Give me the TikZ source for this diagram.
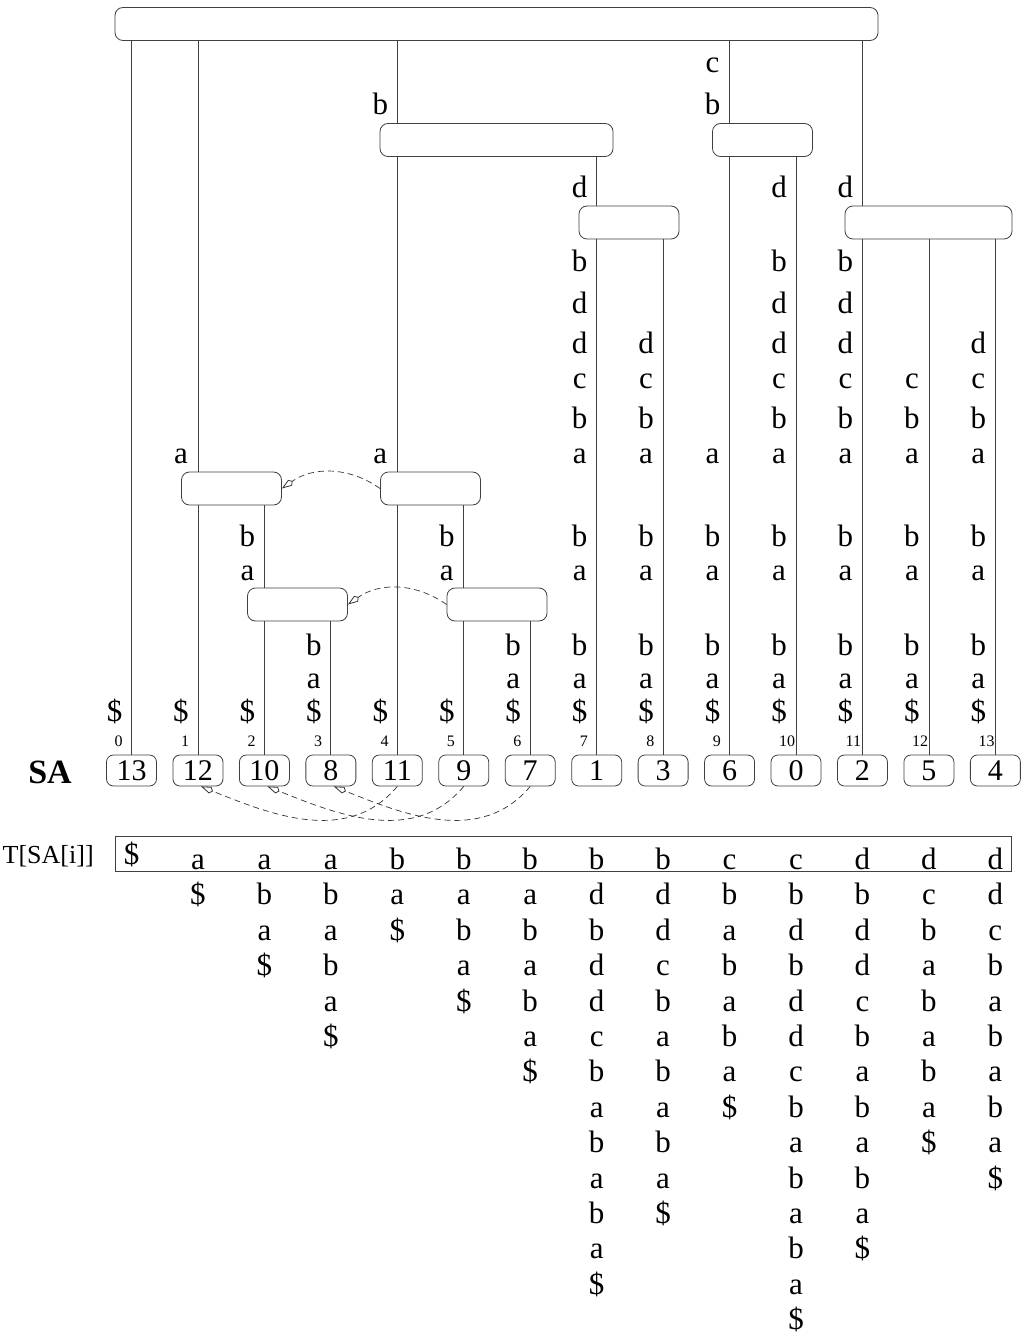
\documentclass[tikz,border=0pt]{standalone}
\usepackage{fontspec}
\setmainfont{Liberation Serif}
\usetikzlibrary{arrows.meta}
\newcommand\elab[2]{\foreach \yy/\lt in {#2} {\node[lab] at ({114.5+66.45*#1},\yy) {\lt};}}
\newcommand\sufcol[2]{\foreach \lt [count=\kk from 0] in {#2} {\node[lab] (s#1-\kk) at ({131.5+66.45*#1},{869.5+35.4*\kk}) {\lt};}}
\begin{document}
\begin{tikzpicture}[x=1pt,y=-1pt,
  ibox/.style={draw=black!75,line width=0.8pt,rounded corners=8pt,fill=white,minimum height=33pt,inner sep=0pt},
  leafbox/.style={draw=black!75,line width=0.8pt,rounded corners=7pt,minimum width=50pt,minimum height=31pt,inner sep=0pt,font=\fontsize{30}{30}\selectfont},
  edge/.style={draw=black!75,line width=0.8pt},
  lab/.style={anchor=base,inner sep=0pt,font=\fontsize{31}{31}\selectfont},
  idx/.style={anchor=base west,inner sep=0pt,font=\fontsize{16}{16}\selectfont},
  link/.style={draw=black!80,line width=0.7pt,dash pattern=on 6pt off 4pt,-{Kite[open,length=13pt,width=7pt,inset=3pt,line width=0.8pt]}},
]
\useasboundingbox (0,0) rectangle (1024,1340);
% internal nodes
\node[ibox,minimum width=763pt] (R) at (496.5,24) {};
\node[ibox,minimum width=233pt] (B) at (496.5,140) {};
\node[ibox,minimum width=100pt] (BD) at (629,222.5) {};
\node[ibox,minimum width=100pt] (CB) at (762.5,140) {};
\node[ibox,minimum width=167pt] (D) at (928.5,222.5) {};
\node[ibox,minimum width=100pt] (A) at (231.5,488.5) {};
\node[ibox,minimum width=100pt] (BA) at (430.5,488.5) {};
\node[ibox,minimum width=100pt] (ABA) at (297.5,604.5) {};
\node[ibox,minimum width=100pt] (BABA) at (497,604.5) {};
% leaves
\foreach \v [count=\i from 0] in {13,12,10,8,11,9,7,1,3,6,0,2,5,4} {
  \node[leafbox] (L\i) at ({131.5+66.45*\i},770.5) {\v};
  \node[idx] (I\i) at ({114.5+66.45*\i},746) {\i};
}
% edges
\foreach \p/\ch/\k in {R/L0/0, R/A/1, R/B/4, R/CB/9, R/D/11, A/L1/1, A/ABA/2, ABA/L2/2, ABA/L3/3, B/BA/4, B/BD/7, BA/L4/4, BA/BABA/5, BABA/L5/5, BABA/L6/6, BD/L7/7, BD/L8/8, CB/L9/9, CB/L10/10, D/L11/11, D/L12/12, D/L13/13}
  \draw[edge] (\p.south -| L\k.north) -- (\ch.north -| L\k.north);
% edge labels
\elab{0}{721/\$}
\elab{1}{463/a,721/\$}
\elab{2}{546/b,580/a,721/\$}
\elab{3}{655/b,688/a,721/\$}
\elab{4}{115/b,463/a,721/\$}
\elab{5}{546/b,580/a,721/\$}
\elab{6}{655/b,688/a,721/\$}
\elab{7}{198/d,272/b,313/d,353/d,388/c,428/b,463/a,546/b,580/a,655/b,688/a,721/\$}
\elab{8}{353/d,388/c,428/b,463/a,546/b,580/a,655/b,688/a,721/\$}
\elab{9}{73/c,115/b,463/a,546/b,580/a,655/b,688/a,721/\$}
\elab{10}{198/d,272/b,313/d,353/d,388/c,428/b,463/a,546/b,580/a,655/b,688/a,721/\$}
\elab{11}{198/d,272/b,313/d,353/d,388/c,428/b,463/a,546/b,580/a,655/b,688/a,721/\$}
\elab{12}{388/c,428/b,463/a,546/b,580/a,655/b,688/a,721/\$}
\elab{13}{353/d,388/c,428/b,463/a,546/b,580/a,655/b,688/a,721/\$}
% suffix links
\draw[link] (BA.west) to[bend right=35] (A.east);
\draw[link] (BABA.west) to[bend right=35] (ABA.east);
\draw[link] (L4.south) to[out=230,in=-22] ([xshift=3pt]L1.south);
\draw[link] (L5.south) to[out=230,in=-22] ([xshift=3pt]L2.south);
\draw[link] (L6.south) to[out=230,in=-22] ([xshift=3pt]L3.south);
% SA label
\node[anchor=base,inner sep=0pt,font=\bfseries\fontsize{34}{34}\selectfont] (SA) at (50,783) {SA};
% T[SA[i]] row
\node[anchor=base west,inner sep=0pt,font=\fontsize{26}{26}\selectfont] (TL) at (2.5,863) {T[SA[i]]};
\node[draw=black!75,line width=0.8pt,minimum width=896pt,minimum height=35pt,inner sep=0pt] (TB) at (563.85,854.2) {};
\node[lab] (s0-0) at (131.5,864) {\$};
\sufcol{1}{a,\$}
\sufcol{2}{a,b,a,\$}
\sufcol{3}{a,b,a,b,a,\$}
\sufcol{4}{b,a,\$}
\sufcol{5}{b,a,b,a,\$}
\sufcol{6}{b,a,b,a,b,a,\$}
\sufcol{7}{b,d,b,d,d,c,b,a,b,a,b,a,\$}
\sufcol{8}{b,d,d,c,b,a,b,a,b,a,\$}
\sufcol{9}{c,b,a,b,a,b,a,\$}
\sufcol{10}{c,b,d,b,d,d,c,b,a,b,a,b,a,\$}
\sufcol{11}{d,b,d,d,c,b,a,b,a,b,a,\$}
\sufcol{12}{d,c,b,a,b,a,b,a,\$}
\sufcol{13}{d,d,c,b,a,b,a,b,a,\$}
\end{tikzpicture}
\end{document}
